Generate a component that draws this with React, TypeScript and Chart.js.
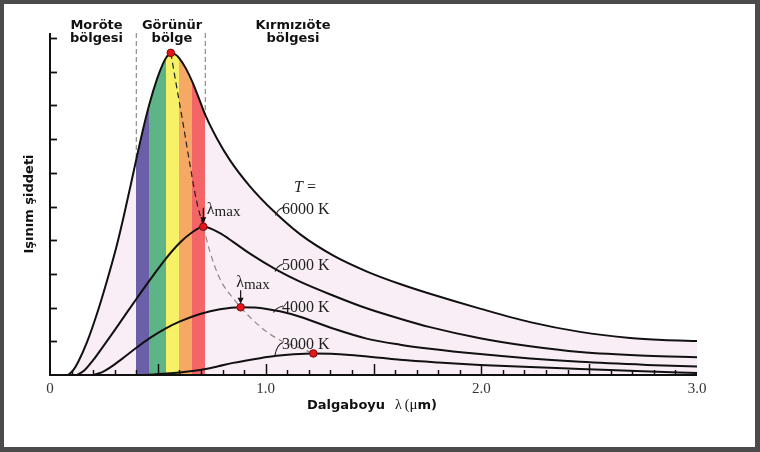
import React, { useEffect, useRef } from "react";
import { Chart, registerables } from "chart.js";
Chart.register(...registerables);

// ---- data ----
const X_MAX = 3.0;
const Y_MAX = 10.15;

const x6000 = [0.0835, 0.105, 0.13, 0.172, 0.223, 0.269, 0.311, 0.343, 0.375, 0.40, 0.431, 0.46, 0.496, 0.524, 0.54, 0.56, 0.58, 0.60, 0.63, 0.66, 0.69, 0.72, 0.774, 0.835, 0.927, 1.034, 1.159, 1.312, 1.47, 1.623, 1.762, 1.994, 2.226, 2.458, 2.69, 2.842, 3.0];
const y6000 = [0, 0.12, 0.38, 0.98, 1.92, 2.90, 3.88, 4.74, 5.66, 6.40, 7.28, 8.02, 8.78, 9.24, 9.43, 9.56, 9.52, 9.40, 9.10, 8.70, 8.22, 7.72, 7.02, 6.37, 5.60, 4.88, 4.18, 3.55, 3.07, 2.70, 2.41, 1.97, 1.57, 1.28, 1.10, 1.04, 1.01];

const x5000 = [0.125, 0.16, 0.20, 0.241, 0.301, 0.357, 0.399, 0.436, 0.478, 0.533, 0.603, 0.658, 0.711, 0.788, 0.849, 0.927, 1.051, 1.159, 1.312, 1.468, 1.623, 1.762, 1.994, 2.226, 2.458, 2.767, 3.0];
const y5000 = [0, 0.14, 0.44, 0.80, 1.34, 1.86, 2.24, 2.58, 2.95, 3.42, 3.93, 4.23, 4.40, 4.21, 3.95, 3.60, 3.12, 2.77, 2.36, 1.98, 1.67, 1.42, 1.09, 0.85, 0.68, 0.57, 0.53];

const x4000 = [0.199, 0.24, 0.278, 0.334, 0.399, 0.464, 0.533, 0.603, 0.696, 0.788, 0.884, 0.95, 1.005, 1.066, 1.159, 1.312, 1.468, 1.623, 1.762, 1.994, 2.226, 2.458, 2.767, 3.0];
const y4000 = [0, 0.08, 0.22, 0.48, 0.80, 1.10, 1.37, 1.59, 1.81, 1.95, 2.01, 2.00, 1.96, 1.89, 1.73, 1.38, 1.08, 0.90, 0.78, 0.62, 0.49, 0.39, 0.30, 0.25];

const x3000 = [0.44, 0.556, 0.696, 0.78, 0.849, 0.974, 1.051, 1.13, 1.221, 1.30, 1.391, 1.53, 1.623, 1.80, 1.994, 2.226, 2.458, 2.75, 3.0];
const y3000 = [0, 0.05, 0.15, 0.26, 0.36, 0.50, 0.57, 0.615, 0.64, 0.63, 0.595, 0.51, 0.45, 0.37, 0.30, 0.235, 0.18, 0.11, 0.06];

const xWien = [0.56, 0.59, 0.62, 0.65, 0.68, 0.711, 0.742, 0.788, 0.849, 0.884, 0.941, 1.005, 1.066, 1.159, 1.221];
const yWien = [9.56, 8.45, 7.35, 6.20, 5.15, 4.40, 3.65, 2.85, 2.28, 2.01, 1.63, 1.28, 1.04, 0.80, 0.64];

const peakX = [0.56, 0.711, 0.884, 1.221];
const peakY = [9.56, 4.40, 2.01, 0.64];

const visibleEdges = [0.40, 0.72];
const bandEdges = [0.40, 0.46, 0.54, 0.60, 0.66, 0.72];
const bandColors = ["#6b5fa9", "#5fb487", "#f6f166", "#f6a964", "#f36567"];
const underCurveColor = "#f9eef6";

const curveLabels = ["6000 K", "5000 K", "4000 K", "3000 K"];
const xTickValues = [0, 1, 2, 3];
const xTickLabels = ["0", "1.0", "2.0", "3.0"];
const regionTitles = [["Moröte", "bölgesi"], ["Görünür", "bölge"], ["Kırmızıöte", "bölgesi"]];
const yTitle = "Işınım şiddeti";

const pts = (xs: number[], ys: number[]) => xs.map((x, i) => ({ x, y: ys[i] }));

const spectrumFill = (context: any) => {
  const chart = context.chart;
  const area = chart.chartArea;
  const xs = chart.scales && chart.scales.x;
  if (!area || !xs) return underCurveColor;
  const w = area.right - area.left;
  const g = chart.ctx.createLinearGradient(area.left, 0, area.right, 0);
  const f = (v: number) => Math.min(1, Math.max(0, (xs.getPixelForValue(v) - area.left) / w));
  g.addColorStop(0, underCurveColor);
  g.addColorStop(f(bandEdges[0]), underCurveColor);
  for (let i = 0; i < bandColors.length; i++) {
    g.addColorStop(f(bandEdges[i]), bandColors[i]);
    g.addColorStop(f(bandEdges[i + 1]), bandColors[i]);
  }
  g.addColorStop(f(bandEdges[bandEdges.length - 1]), underCurveColor);
  g.addColorStop(1, underCurveColor);
  return g;
};

const SANS_B = "bold 13px 'DejaVu Sans'";
const SERIF = "'Liberation Serif', 'DejaVu Serif', serif";

function arrowDown(ctx: CanvasRenderingContext2D, x: number, y1: number, y2: number) {
  ctx.save();
  ctx.strokeStyle = "#111";
  ctx.fillStyle = "#111";
  ctx.lineWidth = 1.2;
  ctx.beginPath();
  ctx.moveTo(x, y1);
  ctx.lineTo(x, y2 - 5);
  ctx.stroke();
  ctx.beginPath();
  ctx.moveTo(x - 3, y2 - 6);
  ctx.lineTo(x + 3, y2 - 6);
  ctx.lineTo(x, y2);
  ctx.closePath();
  ctx.fill();
  ctx.restore();
}

function lambdaMax(ctx: CanvasRenderingContext2D, x: number, baseline: number) {
  ctx.save();
  ctx.fillStyle = "#222";
  ctx.textAlign = "left";
  ctx.textBaseline = "alphabetic";
  ctx.font = `16px ${SERIF}`;
  ctx.fillText("λ", x, baseline);
  const w = ctx.measureText("λ").width;
  ctx.font = `15px ${SERIF}`;
  ctx.fillText("max", x + w, baseline + 2);
  ctx.restore();
}

const decorations = {
  id: "decorations",
  beforeDraw(chart: any) {
    const ctx = chart.ctx as CanvasRenderingContext2D;
    ctx.save();
    ctx.fillStyle = "#4b4b4b";
    ctx.fillRect(0, 0, chart.width, chart.height);
    ctx.fillStyle = "#ffffff";
    ctx.fillRect(4, 4, chart.width - 9, chart.height - 9);
    ctx.restore();
  },
  afterDatasetsDraw(chart: any) {
    const ctx = chart.ctx as CanvasRenderingContext2D;
    const xs = chart.scales.x;
    const ys = chart.scales.y;
    const a = chart.chartArea;
    ctx.save();

    // axes
    ctx.strokeStyle = "#111";
    ctx.lineWidth = 2;
    ctx.beginPath();
    ctx.moveTo(a.left, a.top);
    ctx.lineTo(a.left, a.bottom);
    ctx.lineTo(a.right, a.bottom);
    ctx.stroke();

    // y ticks (inward)
    ctx.lineWidth = 1.8;
    for (let v = 1; v <= 10; v++) {
      const py = Math.round(ys.getPixelForValue(v)) + 0.5;
      ctx.beginPath();
      ctx.moveTo(a.left, py);
      ctx.lineTo(a.left + 7, py);
      ctx.stroke();
    }
    // x ticks (inward)
    ctx.lineWidth = 1.5;
    for (let i = 1; i < 30; i++) {
      const px = Math.round(xs.getPixelForValue(i / 10)) + 0.5;
      const len = i % 5 === 0 ? 11 : 5;
      ctx.beginPath();
      ctx.moveTo(px, a.bottom);
      ctx.lineTo(px, a.bottom - len);
      ctx.stroke();
    }

    // x tick labels
    ctx.fillStyle = "#333";
    ctx.font = `15px ${SERIF}`;
    ctx.textAlign = "center";
    ctx.textBaseline = "alphabetic";
    xTickValues.forEach((v, i) => {
      ctx.fillText(xTickLabels[i], xs.getPixelForValue(v), a.bottom + 18);
    });

    // x title
    ctx.fillStyle = "#111";
    ctx.textAlign = "left";
    let tx = 307;
    const tb = 409;
    ctx.font = SANS_B;
    ctx.fillText("Dalgaboyu", tx, tb);
    tx += ctx.measureText("Dalgaboyu").width + 10;
    ctx.font = `14px ${SERIF}`;
    ctx.fillText("λ", tx, tb);
    tx += ctx.measureText("λ").width + 3;
    ctx.fillText("(", tx, tb);
    tx += ctx.measureText("(").width;
    ctx.font = `15px ${SERIF}`;
    ctx.fillText("μ", tx, tb);
    tx += ctx.measureText("μ").width;
    ctx.font = SANS_B;
    ctx.fillText("m)", tx, tb);

    // y title
    ctx.save();
    ctx.translate(33, 204);
    ctx.rotate(-Math.PI / 2);
    ctx.textAlign = "center";
    ctx.font = SANS_B;
    ctx.fillText(yTitle, 0, 0);
    ctx.restore();

    // region titles
    const centers = [96.5, 172, 293];
    ctx.textAlign = "center";
    ctx.font = SANS_B;
    regionTitles.forEach((lines, i) => {
      ctx.fillText(lines[0], centers[i], 28.5);
      ctx.fillText(lines[1], centers[i], 41.5);
    });

    // curve labels
    const lx = 282;
    const baselines = [213.5, 270, 312, 348.5];
    const leaderStart = [[275.5, 215.5], [275, 271.5], [273.5, 312.5], [275, 355]];
    ctx.fillStyle = "#222";
    ctx.textAlign = "left";
    ctx.font = `16px ${SERIF}`;
    curveLabels.forEach((t, i) => {
      ctx.fillText(t, lx, baselines[i]);
      const [sx, sy] = leaderStart[i];
      ctx.strokeStyle = "#222";
      ctx.lineWidth = 1.1;
      ctx.beginPath();
      ctx.moveTo(sx, sy);
      ctx.quadraticCurveTo(sx + 2, baselines[i] - 4, lx + 1, baselines[i] - 6);
      ctx.stroke();
    });
    // "T ="
    ctx.font = `italic 16px ${SERIF}`;
    ctx.fillText("T", 294, 192);
    const tw = ctx.measureText("T").width;
    ctx.font = `16px ${SERIF}`;
    ctx.fillText(" =", 294 + tw, 192);

    // lambda max markers
    const p5x = xs.getPixelForValue(peakX[1]);
    const p5y = ys.getPixelForValue(peakY[1]);
    arrowDown(ctx, p5x, p5y - 19, p5y - 3.5);
    lambdaMax(ctx, p5x + 3.5, p5y - 13);
    const p4x = xs.getPixelForValue(peakX[2]);
    const p4y = ys.getPixelForValue(peakY[2]);
    arrowDown(ctx, p4x, p4y - 17, p4y - 3.5);
    lambdaMax(ctx, p4x - 4.5, p4y - 20.5);

    ctx.restore();
  },
};

export default function App() {
  const ref = useRef<HTMLCanvasElement | null>(null);
  useEffect(() => {
    if (!ref.current) return;
    const line = (xs: number[], ys: number[]) => ({
      data: pts(xs, ys),
      borderColor: "#111",
      borderWidth: 2,
      pointRadius: 0,
      fill: false,
      cubicInterpolationMode: "monotone" as const,
    });
    const edgeIdx = visibleEdges.map((e) => x6000.indexOf(e));
    const chart = new Chart(ref.current, {
      type: "line",
      data: {
        datasets: [
          {
            data: pts(peakX, peakY),
            showLine: false,
            pointRadius: 3.8,
            pointBackgroundColor: "#e3161c",
            pointBorderColor: "#7a0b0b",
            pointBorderWidth: 1,
            borderWidth: 0,
            fill: false,
          } as any,
          line(x6000, y6000),
          line(x5000, y5000),
          line(x4000, y4000),
          line(x3000, y3000),
          {
            data: pts(xWien, yWien),
            borderColor: "#777",
            borderWidth: 1.2,
            borderDash: [6, 4],
            pointRadius: 0,
            fill: false,
            cubicInterpolationMode: "monotone",
            segment: {
              borderColor: (c: any) => (c.p0.parsed.x < 0.7 ? "#222" : "#8a8a8a"),
            },
          } as any,
          ...visibleEdges.map((e, i) => ({
            data: [{ x: e, y: Y_MAX }, { x: e, y: y6000[edgeIdx[i]] }],
            borderColor: "#777",
            borderWidth: 1,
            borderDash: [5, 3],
            pointRadius: 0,
            fill: false,
          })),
          {
            data: pts(x6000, y6000),
            borderWidth: 0,
            borderColor: "rgba(0,0,0,0)",
            backgroundColor: spectrumFill,
            pointRadius: 0,
            fill: "origin",
            cubicInterpolationMode: "monotone",
          } as any,
        ],
      },
      options: {
        responsive: false,
        animation: false,
        events: [],
        layout: { padding: { left: 50, top: 33, right: 63, bottom: 77 } },
        plugins: { legend: { display: false }, tooltip: { enabled: false } },
        scales: {
          x: { type: "linear", min: 0, max: X_MAX, display: false },
          y: { type: "linear", min: 0, max: Y_MAX, display: false },
        },
      },
      plugins: [decorations],
    });
    return () => chart.destroy();
  }, []);
  return (
    <div style={{ position: "absolute", left: 0, top: 0, width: 760, height: 452 }}>
      <canvas ref={ref} width={760} height={452} style={{ display: "block" }} />
    </div>
  );
}
